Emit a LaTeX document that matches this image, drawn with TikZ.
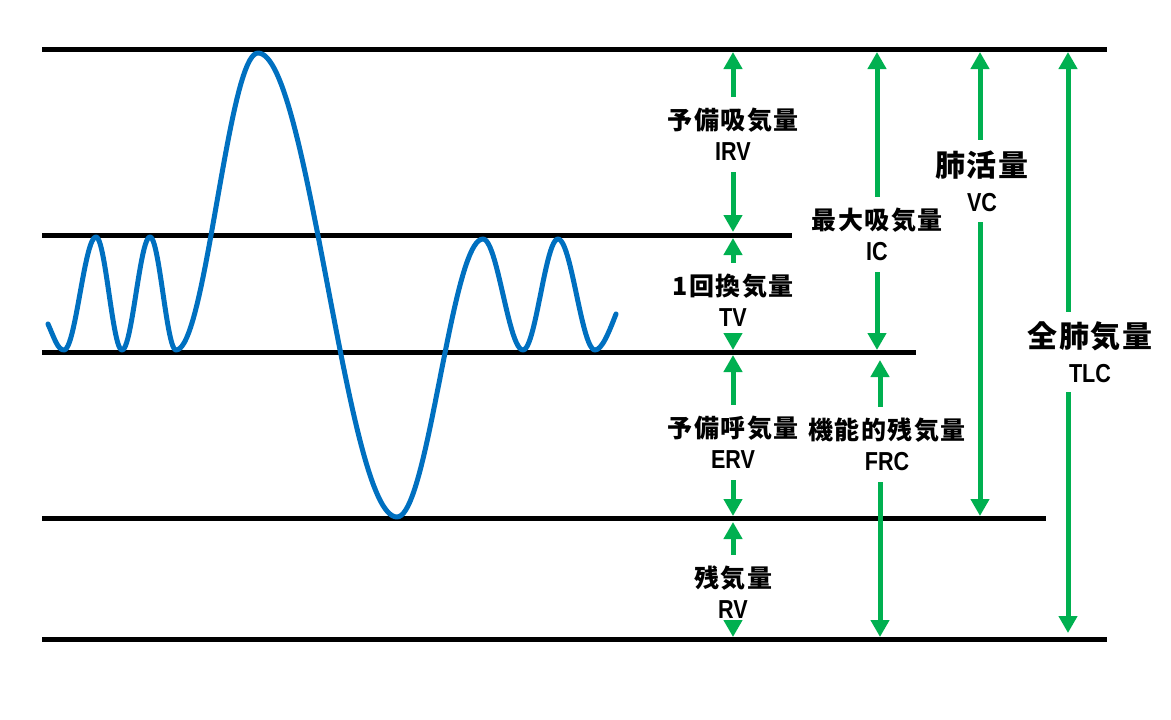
\documentclass[tikz,border=0pt]{standalone}
\usepackage{fontspec}
\usepackage{graphicx}
\usetikzlibrary{arrows.meta}
\newfontfamily\jpfont{Noto Sans CJK JP}[LetterSpace=6]
\newfontfamily\latfont{Liberation Sans}
\definecolor{wblue}{HTML}{0070C0}
\definecolor{ggreen}{HTML}{00B050}
\newcommand{\jsmall}[1]{{\jpfont\bfseries\fontsize{25}{31}\selectfont #1}}
\newcommand{\jbig}[1]{{\jpfont\bfseries\fontsize{30}{35}\selectfont #1}}
\newcommand{\lsmall}[1]{\scalebox{0.83}[1]{\latfont\bfseries\fontsize{26}{31}\selectfont #1}}
\begin{document}
\begin{tikzpicture}[x=1pt,y=-1pt]
\tikzset{
  levelline/.style={line width=5pt, black},
  wave/.style={line width=5pt, wblue, line join=round, line cap=round},
  garrow/.style={line width=5pt, ggreen, -{Triangle[width=18pt,length=17pt]}},
  lab/.style={align=center, inner sep=0pt, text=black, font=\fontsize{25}{31}\selectfont},
  labbig/.style={lab, font=\fontsize{30}{35}\selectfont}
}
\useasboundingbox (0,0) rectangle (1171,720);
% level lines
\coordinate (l1a) at (42,49);  \coordinate (l1b) at (1107,49);
\coordinate (l2a) at (42,235); \coordinate (l2b) at (792,235);
\coordinate (l3a) at (42,352); \coordinate (l3b) at (916,352);
\coordinate (l4a) at (42,518); \coordinate (l4b) at (1046,518);
\coordinate (l5a) at (42,639); \coordinate (l5b) at (1107,639);
\draw[levelline] (l1a) -- (l1b);
\draw[levelline] (l2a) -- (l2b);
\draw[levelline] (l3a) -- (l3b);
\draw[levelline] (l4a) -- (l4b);
\draw[levelline] (l5a) -- (l5b);
% wave
\draw[wave] (48,324) .. controls (55,340) and (58,350) .. (64,350)
  -- plot[domain=0:1,samples=25] ({64+32*\x},{350+(237-350)*(1-cos(180*\x))/2})
  -- plot[domain=0:1,samples=25] ({96+26*\x},{237+(350-237)*(1-cos(180*\x))/2})
  -- plot[domain=0:1,samples=25] ({122+28*\x},{350+(237-350)*(1-cos(180*\x))/2})
  -- plot[domain=0:1,samples=25] ({150+26*\x},{237+(350-237)*(1-cos(180*\x))/2})
  -- plot[domain=0:1,samples=40] ({176+82*\x},{350+(53-350)*(1-cos(180*\x))/2})
  -- plot[domain=0:1,samples=60] ({258+139*\x},{53+(517-53)*(1-cos(180*\x))/2})
  -- plot[domain=0:1,samples=40] ({397+86*\x},{517+(239-517)*(1-cos(180*\x))/2})
  -- plot[domain=0:1,samples=25] ({483+40*\x},{239+(350-239)*(1-cos(180*\x))/2})
  -- plot[domain=0:1,samples=25] ({523+35*\x},{350+(239-350)*(1-cos(180*\x))/2})
  -- plot[domain=0:1,samples=25] ({558+37*\x},{239+(350-239)*(1-cos(180*\x))/2})
  .. controls (602,350) and (609,332) .. (616,314);
% arrow end points
\coordinate (irvT) at (733,52);  \coordinate (irvB) at (733,232);
\coordinate (tvT) at (733,238);  \coordinate (tvB) at (733,350);
\coordinate (erT) at (733,355);  \coordinate (erB) at (733,516);
\coordinate (rvT) at (733,522);  \coordinate (rvB) at (733,637);
\coordinate (icT) at (877,52);   \coordinate (icB) at (877,350);
\coordinate (frT) at (880,360);  \coordinate (frB) at (880,637);
\coordinate (vcT) at (980,52);   \coordinate (vcB) at (980,516);
\coordinate (tlT) at (1068,52);  \coordinate (tlB) at (1068,633);
% labels
\node[lab, minimum height=75pt] (irv) at (733,134.5) {\jsmall{予備吸気量}\\\lsmall{IRV}};
\node[lab, minimum height=75pt] (tv) at (733,300.5) {\jsmall{1回換気量}\\\lsmall{TV}};
\node[lab, minimum height=75pt] (erv) at (733,442.5) {\jsmall{予備呼気量}\\\lsmall{ERV}};
\node[lab, minimum height=75pt] (rv) at (733,592.5) {\jsmall{残気量}\\\lsmall{RV}};
\node[lab, minimum height=75pt] (ic) at (877,234.5) {\jsmall{最大吸気量}\\\lsmall{IC}};
\node[lab, minimum height=75pt] (frc) at (887,444.5) {\jsmall{機能的残気量}\\\lsmall{FRC}};
\node[labbig, minimum height=82pt] (vc) at (982,181) {\jbig{肺活量}\\\lsmall{VC}};
\node[labbig, minimum height=80pt] (tlc) at (1090,352) {\jbig{全肺気量}\\\lsmall{TLC}};
% arrows
\draw[garrow] (irv.north) -- (irvT);
\draw[garrow] (irv.south) -- (irvB);
\draw[garrow] (tv.north) -- (tvT);
\draw[garrow] (tv.south) -- (tvB);
\draw[garrow] (erv.north) -- (erT);
\draw[garrow] (erv.south) -- (erB);
\draw[garrow] (rv.north) -- (rvT);
\draw[garrow] (rv.south) -- (rvB);
\draw[garrow] (ic.north) -- (icT);
\draw[garrow] (ic.south) -- (icB);
\draw[garrow] (frc.north -| frT) -- (frT);
\draw[garrow] (frc.south -| frB) -- (frB);
\draw[garrow] (vc.north -| vcT) -- (vcT);
\draw[garrow] (vc.south -| vcB) -- (vcB);
\draw[garrow] (tlc.north -| tlT) -- (tlT);
\draw[garrow] (tlc.south -| tlB) -- (tlB);
\end{tikzpicture}
\end{document}
